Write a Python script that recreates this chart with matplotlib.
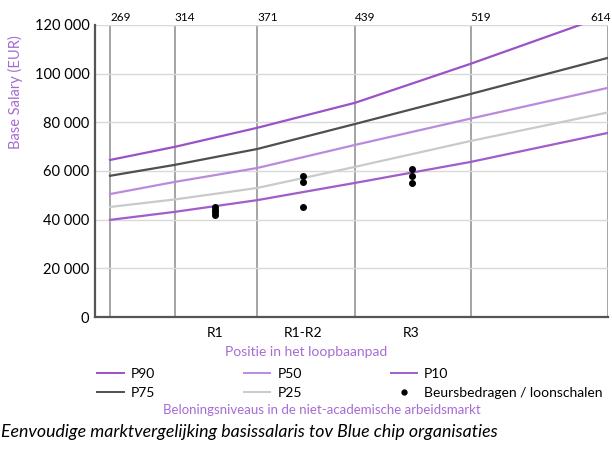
import matplotlib
matplotlib.use("Agg")
import matplotlib.pyplot as plt
from matplotlib.lines import Line2D
from matplotlib.ticker import FuncFormatter

plt.rcParams['font.family'] = ['Lato', 'DejaVu Sans']

# salary points at the vertical guide lines
points = [269, 314, 371, 439, 519, 614]
p90 = [64500, 69900, 77700, 88000, 104000, 124000]
p75 = [58000, 62500, 69000, 79300, 91600, 106400]
p50 = [50500, 55500, 61200, 70700, 81500, 94100]
p25 = [45200, 48300, 53000, 61700, 72300, 84000]
p10 = [39900, 43200, 48000, 55100, 63700, 75600]

# career positions and the scale amounts
positions = ['R1', 'R1-R2', 'R3']
position_x = [342, 403, 478]
scale_x = [342, 342, 342, 342, 403, 403, 403, 478, 478, 478]
scale_y = [45000, 44000, 43000, 42000, 57900, 55500, 45200, 60800, 58000, 55100]

purple_text = '#a56cd2'
colors = {'P90': '#9b52c7', 'P75': '#4f4f4f', 'P50': '#bb8bdb',
          'P25': '#cacaca', 'P10': '#a15dca'}

fig = plt.figure(figsize=(6.12, 4.51), dpi=100)
ax = fig.add_axes([0.155, 0.297, 0.838, 0.648])

for name, vals in [('P90', p90), ('P75', p75), ('P50', p50), ('P25', p25), ('P10', p10)]:
    ax.plot(points, vals, color=colors[name], lw=1.6, label=name)
ax.scatter(scale_x, scale_y, s=16, color='black', zorder=5)

for p in points:
    ax.axvline(p, color='#8c8c8c', lw=1.1, zorder=0)
    last = p == points[-1]
    ax.annotate(str(p), (p, 120000), xytext=(2 if last else 0, 1.5), textcoords='offset points',
                ha='right' if last else 'left', va='bottom', fontsize=8.5)

ax.set_xlim(258.5, 614)
ax.set_ylim(0, 120000)
ax.set_yticks(range(0, 120001, 20000))
ax.yaxis.set_major_formatter(FuncFormatter(lambda v, _: f'{int(v):,}'.replace(',', ' ')))
ax.grid(axis='y', color='#d9d9d9', lw=1)
ax.set_axisbelow(True)
ax.set_xticks(position_x)
ax.set_xticklabels(positions)
ax.tick_params(length=0, labelsize=10, pad=7)
ax.tick_params(axis='y', labelsize=10.5, pad=4)

for side in ['top', 'right']:
    ax.spines[side].set_visible(False)
for side in ['left', 'bottom']:
    ax.spines[side].set_color('#555555')
    ax.spines[side].set_linewidth(1.6)

ax.set_ylabel('Base Salary (EUR)', color=purple_text, fontsize=10.5)
ax.yaxis.set_label_coords(-0.14, 0.77)
fig.text(0.5, 0.2195, 'Positie in het loopbaanpad', color=purple_text,
         fontsize=10, ha='center', va='center')

handles = [Line2D([], [], color=colors[n], lw=1.4, label=n)
           for n in ['P90', 'P75', 'P50', 'P25', 'P10']]
handles.append(Line2D([], [], color='black', marker='o', ms=3.5, lw=0,
                      label='Beursbedragen / loonschalen'))
fig.legend(handles=handles, ncol=3, loc='center', bbox_to_anchor=(0.572, 0.149),
           frameon=False, fontsize=10, handlelength=1.9, columnspacing=6.4,
           labelspacing=0.5, handletextpad=0.5)

fig.text(0.526, 0.091, 'Beloningsniveaus in de niet-academische arbeidsmarkt',
         color=purple_text, fontsize=9.5, ha='center', va='center')
fig.text(0.002, 0.042, 'Eenvoudige marktvergelijking basissalaris tov Blue chip organisaties',
         fontsize=12.8, style='italic', ha='left', va='center')

fig.savefig('out.png', dpi=100)
